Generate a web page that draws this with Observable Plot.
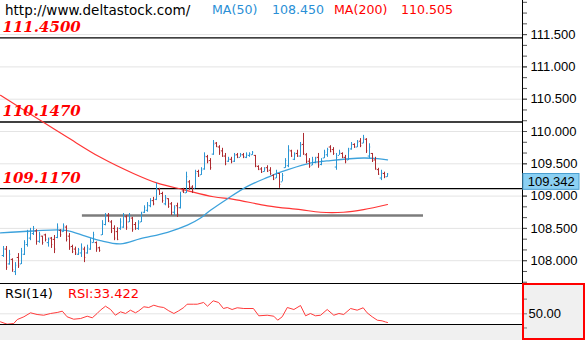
<!DOCTYPE html>
<html><head><meta charset="utf-8">
<script src="https://cdn.jsdelivr.net/npm/d3@7"></script>
<script src="https://cdn.jsdelivr.net/npm/@observablehq/plot@0.6"></script>
<style>
body{margin:0;background:#fff;}
#wrap{position:relative;width:585px;height:340px;overflow:hidden;background:#fff;font-family:"DejaVu Sans",sans-serif;}
.abs{position:absolute;white-space:nowrap;line-height:14px;}
</style></head><body>
<div id="wrap">
 <div class="abs" style="left:0;top:324px;width:585px;height:16px;background:#f0f0f0"></div>
 <div class="abs" style="left:522px;top:283px;width:63px;height:57px;background:#f0f0f0"></div>
 <div id="main" class="abs" style="left:0;top:0"></div>
 <div id="rsi" class="abs" style="left:0;top:283px"></div>
 <div class="abs" style="left:522px;top:283px;width:63px;height:57px;border:2px solid #ff0000;box-sizing:border-box"></div>
 <div class="abs" style="left:5px;top:3px;font-size:13.5px;color:#000">http://www.deltastock.com/</div>
 <div class="abs" style="left:212px;top:3px;font-size:12.6px;color:#2a8fd6">MA(50)</div>
 <div class="abs" style="left:272px;top:3px;font-size:12.6px;color:#2a8fd6">108.450</div>
 <div class="abs" style="left:334px;top:3px;font-size:12.6px;color:#ff0000">MA(200)</div>
 <div class="abs" style="left:401px;top:3px;font-size:12.6px;color:#ff0000">110.505</div>
 <div class="abs" style="left:5px;top:287px;font-size:13px;color:#000">RSI(14)</div>
 <div class="abs" style="left:68px;top:287px;font-size:13px;color:#ff0000">RSI:33.422</div>
</div>
<script>
// ---- data ----
const barOpen = [108.08,108.18,107.95,108.02,107.83,108.05,107.95,108.10,108.25,108.35,108.42,108.46,108.30,108.38,108.40,108.28,108.35,108.33,108.36,108.47,108.45,108.52,108.38,108.22,108.18,108.10,108.12,108.18,108.12,108.18,108.28,108.28,108.20,108.40,108.56,108.70,108.60,108.50,108.45,108.50,108.52,108.68,108.60,108.66,108.56,108.50,108.60,108.75,108.78,108.85,108.93,108.95,109.10,109.04,108.88,108.96,108.88,108.75,108.85,108.82,109.08,109.05,109.22,109.14,109.12,109.38,109.33,109.42,109.61,109.55,109.65,109.82,109.76,109.70,109.62,109.54,109.57,109.54,109.64,109.60,109.64,109.60,109.63,109.64,109.63,109.46,109.42,109.38,109.44,109.40,109.32,109.28,109.35,109.22,109.44,109.47,109.70,109.57,109.66,109.62,109.80,109.64,109.54,109.48,109.52,109.60,109.49,109.59,109.64,109.76,109.72,109.45,109.63,109.66,109.60,109.56,109.73,109.80,109.76,109.85,109.82,109.88,109.62,109.66,109.56,109.41,109.28,109.35,109.30];
const barHigh = [108.22,108.22,108.16,108.03,107.97,108.11,108.19,108.31,108.47,108.50,108.53,108.48,108.44,108.38,108.41,108.35,108.36,108.39,108.57,108.48,108.57,108.54,108.42,108.24,108.21,108.19,108.26,108.21,108.24,108.34,108.44,108.29,108.21,108.62,108.73,108.73,108.62,108.54,108.51,108.65,108.73,108.70,108.73,108.67,108.59,108.62,108.75,108.85,108.90,108.96,108.98,109.20,109.12,109.06,109.01,108.96,108.90,108.85,108.89,109.06,109.12,109.37,109.24,109.16,109.40,109.40,109.44,109.67,109.63,109.58,109.86,109.83,109.78,109.74,109.66,109.60,109.60,109.66,109.66,109.66,109.66,109.67,109.67,109.69,109.63,109.47,109.44,109.44,109.47,109.44,109.33,109.40,109.35,109.35,109.58,109.78,109.71,109.67,109.71,109.83,109.97,109.66,109.58,109.60,109.60,109.66,109.58,109.71,109.74,109.78,109.75,109.66,109.71,109.67,109.63,109.74,109.83,109.81,109.86,109.89,109.94,109.89,109.81,109.66,109.60,109.43,109.40,109.37,109.35];
const barLow = [108.05,107.85,107.93,107.82,107.77,107.88,107.94,108.08,108.21,108.31,108.39,108.24,108.27,108.24,108.29,108.21,108.19,108.11,108.34,108.36,108.44,108.29,108.16,108.11,108.08,108.08,108.05,107.97,108.10,108.16,108.27,108.13,108.13,108.39,108.54,108.59,108.42,108.31,108.31,108.47,108.50,108.47,108.59,108.44,108.47,108.47,108.59,108.73,108.75,108.82,108.85,108.93,109.01,108.89,108.85,108.81,108.70,108.70,108.67,108.80,109.04,109.04,109.09,109.04,109.12,109.29,109.32,109.40,109.50,109.40,109.63,109.75,109.63,109.60,109.47,109.52,109.50,109.52,109.58,109.60,109.58,109.58,109.60,109.63,109.44,109.40,109.35,109.37,109.37,109.32,109.24,109.27,109.12,109.22,109.43,109.44,109.60,109.55,109.60,109.60,109.63,109.50,109.43,109.47,109.50,109.43,109.47,109.58,109.60,109.67,109.63,109.40,109.63,109.58,109.50,109.55,109.71,109.74,109.75,109.75,109.81,109.66,109.58,109.52,109.40,109.32,109.24,109.27,109.29];
const barClose = [108.18,107.90,108.10,107.86,107.93,107.92,108.15,108.28,108.43,108.46,108.50,108.30,108.41,108.28,108.33,108.33,108.25,108.18,108.52,108.40,108.54,108.33,108.20,108.14,108.12,108.17,108.20,108.05,108.20,108.30,108.40,108.18,108.16,108.58,108.70,108.62,108.46,108.35,108.33,108.60,108.70,108.52,108.70,108.48,108.50,108.58,108.72,108.82,108.86,108.93,108.88,109.12,109.04,108.93,108.98,108.84,108.75,108.82,108.72,109.00,109.06,109.30,109.13,109.08,109.35,109.31,109.40,109.62,109.53,109.44,109.80,109.77,109.67,109.62,109.50,109.57,109.53,109.63,109.60,109.64,109.61,109.65,109.66,109.68,109.47,109.41,109.37,109.42,109.38,109.35,109.26,109.36,109.18,109.32,109.55,109.72,109.62,109.64,109.62,109.78,109.66,109.53,109.46,109.56,109.58,109.47,109.55,109.68,109.72,109.69,109.66,109.60,109.68,109.60,109.53,109.70,109.80,109.76,109.83,109.78,109.90,109.70,109.76,109.55,109.43,109.34,109.36,109.30,109.342];

const ma50Idx = [-1,10,20.7,27.3,32.3,39,45.7,54.7,61.3,65.7,69,74.7,81.3,88,92.3,101.3,109,120,124.7,128];
const ma50Val = [108.43,108.46,108.47,108.38,108.31,108.26,108.34,108.44,108.55,108.66,108.78,108.96,109.15,109.29,109.37,109.50,109.55,109.59,109.58,109.56];
const ma200Idx = [-1,11.3,21.3,32.3,43.3,51.3,60,70,76.7,88,99,105.7,113.3,120,128];
const ma200Val = [110.56,110.20,109.91,109.60,109.35,109.20,109.10,108.99,108.95,108.85,108.79,108.75,108.75,108.79,108.87];

const rsiIdx = [-1,1.2,3.4,4.6,6.8,9,11.2,13.4,15.7,17.9,19.6,21.2,23.4,25.7,27.9,29.6,31.2,32.3,34,35.7,37.3,39,40.7,42.3,44,45.1,46.8,48.4,50.1,51.8,53.4,55.1,56.8,58.4,60.1,61.2,63.4,64.6,66.7,68,69.9,71.7,73.3,74.6,76.2,77.9,80.1,83.3,85.1,87.9,90.1,91.4,92.9,94.6,96.8,99,100.7,102.3,104,105.7,107.9,110.1,111.8,113.4,115.7,117.9,119.9,121.2,122.9,124.6,126.2,127.3,128];
const rsiVal = [34.7,30.2,31.5,39.1,44.3,51.9,48.7,47.3,50.6,52.5,55.0,44.3,39.7,41.0,45.4,42.4,50.6,56.9,64.5,58.2,47.3,53.8,50.6,56.9,51.9,55.7,63.4,62.0,66.4,63.4,62.0,55.7,50.6,55.7,62.0,68.3,68.3,68.3,71.6,64.5,74.8,71.6,60.1,62.0,58.2,61.5,60.1,60.1,46.2,47.3,45.4,37.8,44.3,62.0,58.2,65.8,46.2,50.6,46.2,47.3,58.2,47.3,50.6,48.7,60.1,56.9,61.5,51.9,44.3,37.8,36.6,34.5,33.422];

const levelValues = [111.45, 110.147, 109.117];
const supportValue = 108.70, supportFrom = 26.3, supportTo = 140;
const priceTicks = [108, 108.5, 109, 109.5, 110, 110.5, 111, 111.5];
const rsiTicks = [50];
const lastPrice = 109.342;

// ---- layout ----
const xDomain = [-1, 173];
const yDomain = [107.647, 112.028];
const bars = barOpen.map((o, i) => ({i, open: o, high: barHigh[i], low: barLow[i], close: barClose[i], up: barClose[i] >= o}));
const ma50 = ma50Idx.map((x, k) => ({x, y: ma50Val[k]}));
const ma200 = ma200Idx.map((x, k) => ({x, y: ma200Val[k]}));
const rsi = rsiIdx.map((x, k) => ({x, y: rsiVal[k]}));
const minorTicks = d3.range(107.6667, 112.01, 1/6);
const upC = "#2b96d4", dnC = "#ad2a2f";
const barColor = d => d.up ? upC : dnC;

const main = Plot.plot({
  width: 585, height: 283,
  marginLeft: 0, marginRight: 63, marginTop: 0, marginBottom: 0,
  style: {background: "transparent", fontFamily: "Liberation Sans", overflow: "visible"},
  x: {domain: xDomain, axis: null},
  y: {domain: yDomain, axis: null, label: null},
  marks: [
    Plot.ruleY(priceTicks, {stroke: "#e4e4e4"}),
    Plot.ruleY(levelValues, {stroke: "#000", strokeWidth: 1.3}),
    Plot.ruleY([supportValue], {x1: supportFrom, x2: supportTo, stroke: "#7c7c7c", strokeWidth: 2.5}),
    Plot.line(ma200, {x: "x", y: "y", stroke: "#ff3535", strokeWidth: 1.2, curve: "catmull-rom"}),
    Plot.line(ma50, {x: "x", y: "y", stroke: "#3da2dc", strokeWidth: 1.3, curve: "catmull-rom"}),
    Plot.ruleX(bars, {x: "i", y1: "low", y2: "high", stroke: barColor, strokeWidth: 1}),
    Plot.ruleY(bars, {y: "open", x1: d => d.i - 0.42, x2: d => d.i, stroke: barColor, strokeWidth: 1}),
    Plot.ruleY(bars, {y: "close", x1: d => d.i, x2: d => d.i + 0.42, stroke: barColor, strokeWidth: 1}),
    Plot.text(levelValues, {x: xDomain[0], y: d => d, text: d => d.toFixed(4), dx: 2, dy: -10.5, textAnchor: "start", lineAnchor: "middle",
      fill: "#ff0000", fontSize: 15, fontWeight: "bold", fontStyle: "italic", fontFamily: "DejaVu Serif"}),
    Plot.ruleX([xDomain[1]], {stroke: "#000"}),
    Plot.axisY(minorTicks, {anchor: "right", label: null, tickSize: 4, stroke: "#555", tickFormat: () => ""}),
    Plot.axisY(priceTicks, {anchor: "right", label: null, tickSize: 4, tickPadding: 4, stroke: "#555", fill: "#000", fontSize: 13, tickFormat: d3.format(".3f")}),
    Plot.rect([lastPrice], {x1: 173.3, x2: 192, y1: d => d, y2: d => d - 0.245, fill: "#8bd0f3", stroke: "#4a9fd0"}),
    Plot.text([lastPrice], {x: 182.6, y: d => d - 0.123, text: d => d.toFixed(3), fill: "#000", fontSize: 13, fontFamily: "Liberation Sans"})
  ]
});
document.getElementById("main").append(main);

const rsiPlot = Plot.plot({
  width: 585, height: 57,
  marginLeft: 0, marginRight: 63, marginTop: 0, marginBottom: 16,
  style: {background: "transparent", fontFamily: "Liberation Sans", overflow: "visible"},
  x: {domain: xDomain, axis: null},
  y: {domain: [29.6, 107.8], axis: null, label: null},
  marks: [
    Plot.ruleY(rsiTicks, {stroke: "#e4e4e4"}),
    Plot.line(rsi, {x: "x", y: "y", stroke: "#ff3b3b", strokeWidth: 1}),
    Plot.ruleY([107.8, 29.6], {stroke: "#000", strokeWidth: 1.2}),
    Plot.axisY([23, 78], {anchor: "right", label: null, tickSize: 4, stroke: "#777", tickFormat: () => ""}),
    Plot.axisY(rsiTicks, {anchor: "right", label: null, tickSize: 4, tickPadding: 2, stroke: "#777", fill: "#000", fontSize: 13, tickFormat: d3.format(".2f")})
  ]
});
document.getElementById("rsi").append(rsiPlot);
</script>
</body></html>
